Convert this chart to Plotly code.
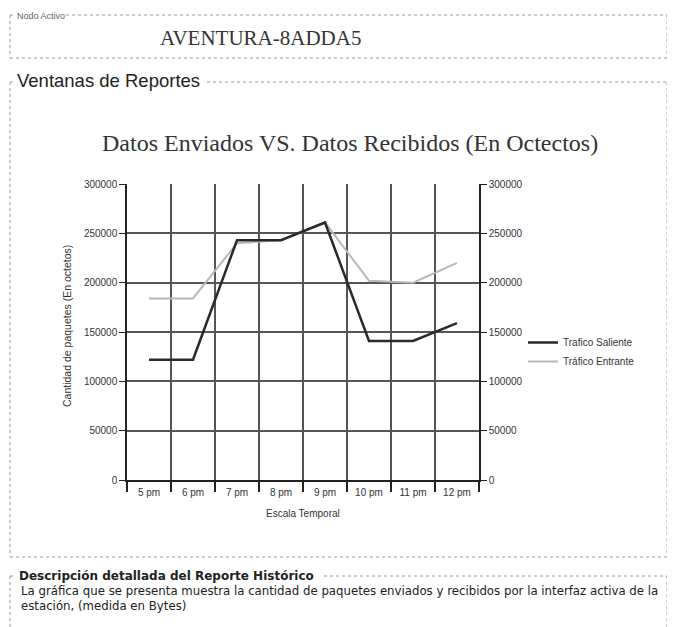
import plotly.graph_objects as go

W, H = 675, 627
OFF = 8  # page body margin of the html page

horas = ["5 pm", "6 pm", "7 pm", "8 pm", "9 pm", "10 pm", "11 pm", "12 pm"]
trafico_saliente = [122000, 122000, 243000, 243000, 261000, 141000, 141000, 159000]
trafico_entrante = [184000, 184000, 240000, 243000, 261000, 202000, 200000, 220000]
y_ticks = [0, 50000, 100000, 150000, 200000, 250000, 300000]

nodo = "AVENTURA-8ADDA5"
titulo = "Datos Enviados VS. Datos Recibidos (En Octectos)"
descripcion_1 = "La gráfica que se presenta muestra la cantidad de paquetes enviados y recibidos por la interfaz activa de la"
descripcion_2 = "estación, (medida en Bytes)"

SANS = "Liberation Sans, Arial, sans-serif"
DSANS = "DejaVu Sans, Verdana, sans-serif"
SERIF = "Liberation Serif, DejaVu Serif, serif"

def px(x):
    return (x - OFF) / W

def py(y):
    return 1 - (y - OFF) / H

fig = go.Figure()
fig.add_trace(go.Scatter(x=horas, y=trafico_entrante, mode="lines", name="Tráfico Entrante",
                         line=dict(color="#b8b8b8", width=2), yaxis="y", legendrank=2))
fig.add_trace(go.Scatter(x=horas, y=trafico_saliente, mode="lines", name="Trafico Saliente",
                         line=dict(color="#2a2a2a", width=2.5), yaxis="y2", legendrank=1))

axis_common = dict(range=[0, 300000], tickvals=y_ticks, tickformat="d",
                   ticks="outside", ticklen=6, tickcolor="#222", automargin=False,
                   tickfont=dict(family=SANS, size=10, color="#333"),
                   showline=True, linecolor="#222", linewidth=1.5, zeroline=False)

fig.update_layout(
    width=W, height=H,
    margin=dict(l=0, r=0, t=0, b=0, pad=0, autoexpand=False),
    paper_bgcolor="#ffffff", plot_bgcolor="#ffffff",
    xaxis=dict(domain=[px(127), px(479)], type="category", tickson="boundaries",
               range=[-0.5, len(horas) - 0.5], automargin=False,
               ticks="outside", ticklen=10, tickcolor="#222", tickwidth=1.5,
               ticklabelstandoff=2,
               showgrid=True, gridcolor="#555555", gridwidth=2,
               showline=True, linecolor="#222", linewidth=1.5,
               tickfont=dict(family=SANS, size=10, color="#333")),
    yaxis=dict(domain=[py(480), py(184)], showgrid=True, gridcolor="#555555", gridwidth=2,
               side="left", **axis_common),
    yaxis2=dict(overlaying="y", side="right", showgrid=False, anchor="x", **axis_common),
    showlegend=True,
    legend=dict(x=px(523), y=py(328), xanchor="left", yanchor="top",
                font=dict(family=SANS, size=10, color="#333"),
                bgcolor="rgba(0,0,0,0)", itemwidth=30, tracegroupgap=0),
)

line_style = dict(color="#9a9a9a", width=1, dash="dot")

def hline(x0, x1, y):
    fig.add_shape(type="line", xref="paper", yref="paper", x0=px(x0), x1=px(x1), y0=py(y), y1=py(y), line=line_style)

def vline(x, y0, y1):
    fig.add_shape(type="line", xref="paper", yref="paper", x0=px(x), x1=px(x), y0=py(y0), y1=py(y1), line=line_style)

# Nodo Activo box
hline(10, 13, 15); hline(66, 667, 15); hline(10, 667, 58); vline(10, 15, 58); vline(667, 15, 58)
# Ventanas de Reportes box
hline(10, 13, 82); hline(207, 667, 82); hline(10, 667, 557); vline(10, 82, 557); vline(667, 82, 557)
# Descripcion box
hline(10, 15, 576); hline(324, 667, 576); vline(10, 576, 627); vline(667, 576, 627)

def text(s, x, y, size, family=SANS, color="#222", xanchor="left", angle=0):
    fig.add_annotation(text=s, x=px(x), y=py(y), xref="paper", yref="paper", showarrow=False,
                       xanchor=xanchor, yanchor="middle", textangle=angle,
                       font=dict(family=family, size=size, color=color))

text("Nodo Activo", 15, 15.5, 9, color="#666")
text(nodo, 260, 38, 21, family=SERIF, xanchor="center", color="#333")
text("Ventanas de Reportes", 15, 81, 18.5)
text(titulo, 350, 143, 24, family=SERIF, xanchor="center", color="#333")
text("Cantidad de paquetes (En octetos)", 67, 326, 10.5, xanchor="center", angle=-90, color="#333")
text("Escala Temporal", 303, 513, 10, xanchor="center", color="#333")
text("<b>Descripción detallada del Reporte Histórico</b>", 17, 576, 12, family=DSANS)
text(descripcion_1, 19, 591, 11.75, family=DSANS)
text(descripcion_2, 19, 606, 11.75, family=DSANS)

fig.write_html("out.html")
